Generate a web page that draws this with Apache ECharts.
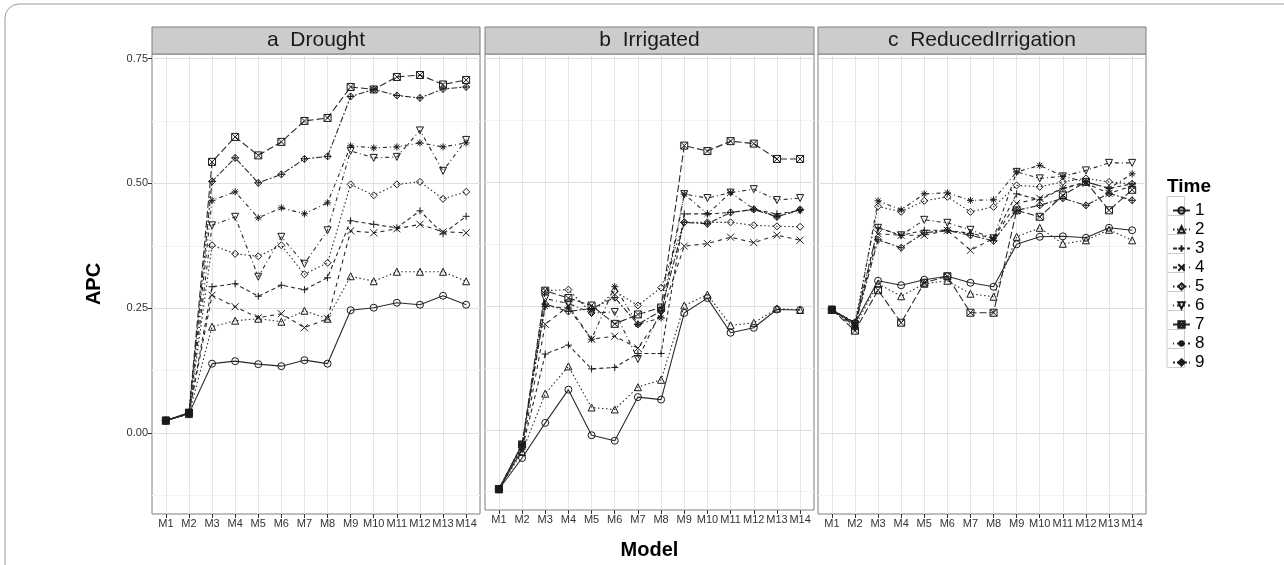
<!DOCTYPE html>
<html>
<head>
<meta charset="utf-8">
<script src="https://cdn.jsdelivr.net/npm/echarts@6/dist/echarts.min.js"></script>
<style>
  html, body { margin: 0; background: #fff; }
  #chart { width: 1284px; height: 565px; }
</style>
</head>
<body>
<div id="chart"></div>
<script>
var models = ['M1', 'M2', 'M3', 'M4', 'M5', 'M6', 'M7', 'M8', 'M9', 'M10', 'M11', 'M12', 'M13', 'M14'];
var times = ['1', '2', '3', '4', '5', '6', '7', '8', '9'];
var panels = ['a  Drought', 'b  Irrigated', 'c  ReducedIrrigation'];
var yTicks = [0, 0.25, 0.5, 0.75];
var yMinor = [-0.125, 0.125, 0.375, 0.625];

// APC per time (rows) and model (columns)
var drought = [
  [0.025, 0.039, 0.139, 0.144, 0.138, 0.134, 0.146, 0.139, 0.246, 0.251, 0.261, 0.257, 0.275, 0.257],
  [0.025, 0.038, 0.213, 0.225, 0.229, 0.223, 0.245, 0.229, 0.314, 0.304, 0.323, 0.323, 0.323, 0.304],
  [0.024, 0.040, 0.293, 0.299, 0.274, 0.296, 0.287, 0.311, 0.425, 0.418, 0.411, 0.445, 0.399, 0.434],
  [0.025, 0.040, 0.276, 0.253, 0.231, 0.239, 0.211, 0.229, 0.405, 0.401, 0.409, 0.418, 0.403, 0.401],
  [0.025, 0.039, 0.376, 0.359, 0.354, 0.376, 0.318, 0.341, 0.498, 0.476, 0.498, 0.503, 0.469, 0.483],
  [0.025, 0.040, 0.416, 0.433, 0.313, 0.393, 0.339, 0.406, 0.565, 0.551, 0.553, 0.606, 0.525, 0.587],
  [0.025, 0.041, 0.543, 0.593, 0.556, 0.583, 0.625, 0.631, 0.693, 0.688, 0.713, 0.717, 0.698, 0.707],
  [0.025, 0.040, 0.466, 0.483, 0.431, 0.451, 0.439, 0.461, 0.575, 0.571, 0.573, 0.581, 0.573, 0.581],
  [0.025, 0.041, 0.504, 0.551, 0.501, 0.518, 0.549, 0.554, 0.674, 0.688, 0.676, 0.671, 0.689, 0.693]
];
var irrigated = [
  [-0.120, -0.057, 0.014, 0.081, -0.011, -0.022, 0.066, 0.061, 0.236, 0.266, 0.196, 0.206, 0.243, 0.242],
  [-0.120, -0.045, 0.073, 0.128, 0.045, 0.041, 0.086, 0.101, 0.251, 0.273, 0.211, 0.216, 0.245, 0.242],
  [-0.120, -0.040, 0.153, 0.171, 0.123, 0.126, 0.154, 0.154, 0.436, 0.436, 0.439, 0.445, 0.436, 0.443],
  [-0.120, -0.040, 0.213, 0.250, 0.183, 0.189, 0.165, 0.232, 0.371, 0.376, 0.389, 0.378, 0.393, 0.383],
  [-0.120, -0.035, 0.281, 0.283, 0.236, 0.280, 0.251, 0.287, 0.419, 0.419, 0.419, 0.413, 0.411, 0.410],
  [-0.120, -0.030, 0.265, 0.255, 0.236, 0.238, 0.143, 0.240, 0.476, 0.468, 0.479, 0.486, 0.464, 0.468],
  [-0.120, -0.030, 0.281, 0.266, 0.251, 0.214, 0.233, 0.247, 0.574, 0.563, 0.583, 0.578, 0.547, 0.547],
  [-0.120, -0.030, 0.249, 0.246, 0.183, 0.289, 0.213, 0.226, 0.476, 0.436, 0.479, 0.446, 0.431, 0.443],
  [-0.120, -0.030, 0.254, 0.239, 0.245, 0.267, 0.213, 0.240, 0.419, 0.416, 0.439, 0.445, 0.430, 0.445]
];
var reduced = [
  [0.247, 0.220, 0.305, 0.296, 0.307, 0.314, 0.301, 0.293, 0.378, 0.393, 0.394, 0.391, 0.411, 0.406],
  [0.247, 0.215, 0.299, 0.274, 0.299, 0.305, 0.279, 0.273, 0.393, 0.411, 0.379, 0.386, 0.407, 0.386],
  [0.247, 0.220, 0.411, 0.396, 0.406, 0.406, 0.400, 0.390, 0.479, 0.467, 0.490, 0.503, 0.490, 0.499],
  [0.247, 0.218, 0.399, 0.396, 0.396, 0.406, 0.366, 0.390, 0.460, 0.470, 0.490, 0.500, 0.480, 0.495],
  [0.247, 0.222, 0.454, 0.443, 0.465, 0.473, 0.443, 0.453, 0.496, 0.493, 0.503, 0.510, 0.503, 0.499],
  [0.247, 0.218, 0.411, 0.396, 0.427, 0.421, 0.407, 0.390, 0.523, 0.510, 0.514, 0.526, 0.541, 0.541],
  [0.247, 0.205, 0.286, 0.221, 0.301, 0.314, 0.241, 0.241, 0.446, 0.433, 0.476, 0.503, 0.446, 0.487],
  [0.247, 0.210, 0.465, 0.447, 0.479, 0.481, 0.466, 0.467, 0.523, 0.536, 0.514, 0.503, 0.490, 0.519],
  [0.247, 0.215, 0.387, 0.371, 0.401, 0.406, 0.396, 0.385, 0.446, 0.456, 0.470, 0.456, 0.480, 0.466]
];
var panelData = [drought, irrigated, reduced];

// R point shapes 1..9 and line types
var symbols = [
  'path://M5,0A5,5 0 1,1 4.99,0Z',
  'path://M5,0L10,9L0,9Z',
  'path://M5,0L5,10M0,5L10,5',
  'path://M0,0L10,10M10,0L0,10',
  'path://M5,0L10,5L5,10L0,5Z',
  'path://M0,1L10,1L5,10Z',
  'path://M0,0L10,0L10,10L0,10ZM0,0L10,10M10,0L0,10',
  'path://M5,0L5,10M0,5L10,5M1.5,1.5L8.5,8.5M8.5,1.5L1.5,8.5',
  'path://M5,0L10,5L5,10L0,5ZM5,0L5,10M0,5L10,5'
];
var dashes = ['solid', [1.5, 2.5], [4, 3], [4, 4], [1.5, 2.5], [1, 3, 4, 3], [7, 3], [1, 3, 4, 3], [2, 2, 6, 2]];

var font = 'Liberation Sans';
var lefts = [152, 485, 818];
var widths = [328, 329, 328];
var gridTop = 54, gridH = 460;
var xPos = models.map(function (m, i) { return i + 1; });

var grids = [], xAxes = [], yAxes = [], series = [], graphics = [];

panelData.forEach(function (rows, p) {
  grids.push({
    left: lefts[p], top: gridTop, width: widths[p], height: gridH,
    show: true, borderColor: '#7f7f7f', borderWidth: 1, backgroundColor: '#fff'
  });
  xAxes.push({
    gridIndex: p, type: 'value', min: 0.4, max: 14.6,
    axisLine: { show: false, onZero: false },
    axisTick: { customValues: xPos, length: 4, lineStyle: { color: '#333' } },
    axisLabel: {
      customValues: xPos, fontSize: 11, color: '#333', fontFamily: font, margin: 4,
      formatter: function (v) { return models[Math.round(v) - 1]; }
    },
    splitLine: { show: true, lineStyle: { color: '#e5e5e5' } },
    name: p === 1 ? 'Model' : '', nameLocation: 'middle', nameGap: 30,
    nameTextStyle: { fontSize: 20, fontWeight: 'bold', color: '#000', fontFamily: font }
  });
  yAxes.push({
    gridIndex: p, type: 'value', min: -0.162, max: 0.759,
    axisLine: { show: false, onZero: false },
    axisTick: { show: p === 0, customValues: yTicks, length: 4, lineStyle: { color: '#333' } },
    axisLabel: {
      show: p === 0, customValues: yTicks, fontSize: 11, color: '#333', fontFamily: font, margin: 4,
      formatter: function (v) { return v.toFixed(2); }
    },
    splitLine: { show: true, lineStyle: { color: '#e0e0e0' } },
    name: p === 0 ? 'APC' : '', nameLocation: 'middle', nameGap: 48, nameRotate: 90,
    nameTextStyle: { fontSize: 20, fontWeight: 'bold', color: '#000', fontFamily: font }
  });
  // minor grid lines
  yAxes.push({
    gridIndex: p, type: 'value', min: -0.162, max: 0.759,
    axisLine: { show: false, onZero: false }, axisLabel: { show: false },
    axisTick: { show: false, customValues: yMinor },
    splitLine: { show: true, lineStyle: { color: '#f3f3f3' } }
  });

  rows.forEach(function (vals, t) {
    series.push({
      type: 'line', name: times[t], xAxisIndex: p, yAxisIndex: p * 2,
      data: vals.map(function (v, i) { return [i + 1, v]; }),
      symbol: symbols[t], symbolSize: 7, showAllSymbol: true,
      lineStyle: { color: '#2a2a2a', width: 1.1, type: dashes[t] },
      itemStyle: { color: 'rgba(0,0,0,0)', borderColor: '#1a1a1a', borderWidth: 1 },
      emphasis: { disabled: true }, z: 3
    });
  });

  graphics.push({
    type: 'rect', z: 10,
    shape: { x: lefts[p], y: 27, width: widths[p], height: gridTop - 27 },
    style: { fill: '#cccccc', stroke: '#7f7f7f', lineWidth: 1 }
  });
  graphics.push({
    type: 'text', z: 11, x: lefts[p] + widths[p] / 2, y: (27 + gridTop) / 2,
    style: { text: panels[p], font: '21px "' + font + '"', fill: '#1a1a1a', textAlign: 'center', textVerticalAlign: 'middle' }
  });
});

// legend title and key boxes
graphics.push({
  type: 'text', x: 1167, y: 187,
  style: { text: 'Time', font: 'bold 19px "' + font + '"', fill: '#000', textVerticalAlign: 'middle' }
});
times.forEach(function (t, i) {
  graphics.push({
    type: 'rect', z: -1,
    shape: { x: 1167, y: 196.5 + i * 19, width: 17.5, height: 19 },
    style: { fill: '#fff', stroke: '#cccccc', lineWidth: 1 }
  });
});
// figure frame
graphics.push({
  type: 'rect', shape: { x: 5, y: 4, width: 1320, height: 620, r: 14 },
  style: { fill: 'none', stroke: '#9a9a9a', lineWidth: 1 }
});

var chart = echarts.init(document.getElementById('chart'));
chart.setOption({
  animation: false,
  backgroundColor: '#fff',
  grid: grids,
  xAxis: xAxes,
  yAxis: yAxes,
  legend: {
    data: times, orient: 'vertical', left: 1167, top: 197,
    itemWidth: 17, itemHeight: 8, itemGap: 2, selectedMode: false,
    textStyle: { fontSize: 17, lineHeight: 17, color: '#000', fontFamily: font }
  },
  graphic: graphics,
  series: series
});
</script>
</body>
</html>
